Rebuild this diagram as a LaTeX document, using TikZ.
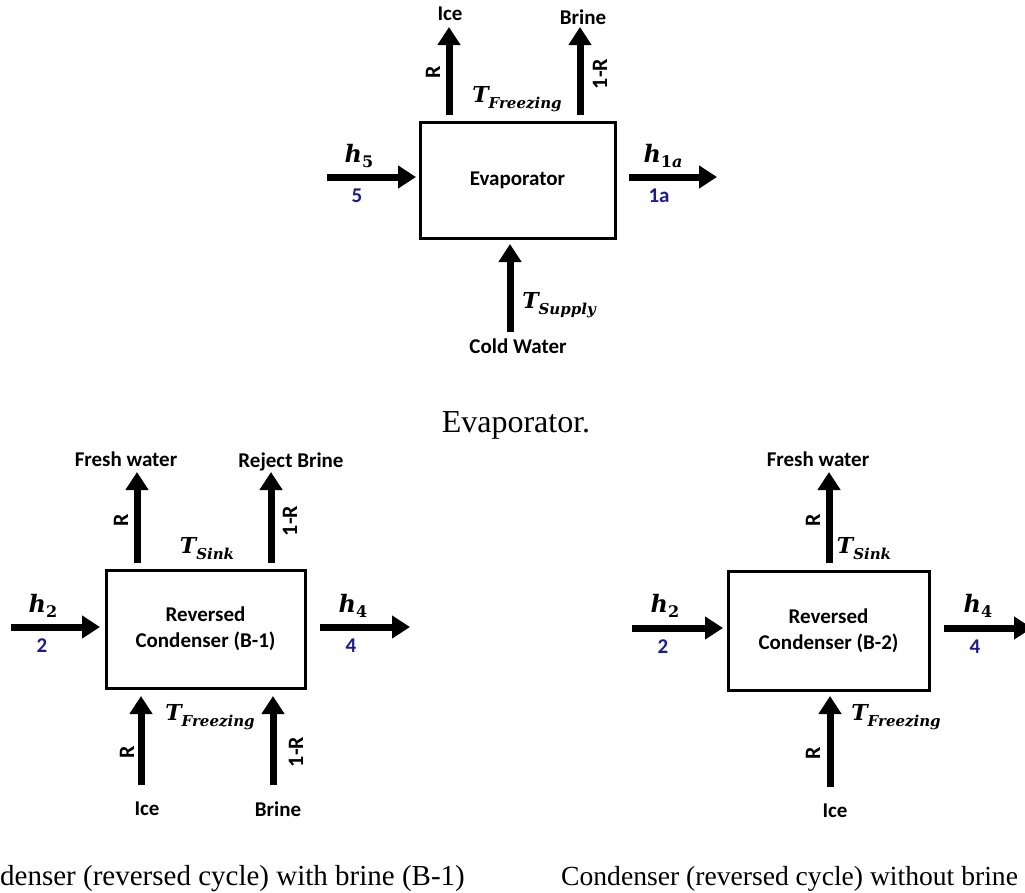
\documentclass[tikz,border=0pt]{standalone}
\usepackage{fontspec}
\setmainfont{Liberation Serif}
\newfontfamily\calib{Carlito}
\newfontfamily\cambr{DejaVu Serif}
\usetikzlibrary{arrows.meta}
\definecolor{numblue}{RGB}{28,28,140}
\newcommand\VarT[1]{{\cambr\bfseries\itshape\fontsize{22}{22}\selectfont T\raisebox{-6pt}{\fontsize{15}{15}\selectfont #1}}}
\newcommand\VarH[1]{{\cambr\bfseries\fontsize{24}{24}\selectfont\textit{h}\raisebox{-5pt}{\fontsize{16}{16}\selectfont #1}}}
\tikzset{
  flow/.style={line width=7pt, -{Triangle[width=22pt,length=18pt]}},
  unit/.style={draw, line width=3pt, inner sep=0pt, align=center,
    font=\calib\bfseries\fontsize{21}{26}\selectfont},
  lbl/.style={inner sep=0pt, font=\calib\bfseries\fontsize{21}{21}\selectfont},
  rlbl/.style={inner sep=0pt, rotate=90, font=\calib\bfseries\fontsize{22}{22}\selectfont},
  num/.style={lbl, text=numblue},
  var/.style={inner sep=0pt, anchor=base},
  capt/.style={inner sep=0pt},
}
\begin{document}
\begin{tikzpicture}[x=1pt,y=-1pt]
\useasboundingbox (0,0) rectangle (1025,892);

% ---------------- Evaporator ----------------
\node[unit, minimum width=195pt, minimum height=116pt] (evap) at (517.5,180) {Evaporator};
\coordinate (e5s) at (327,177);  \coordinate (e5e) at (416,177);
\coordinate (e1s) at (629,177);  \coordinate (e1e) at (717,177);
\coordinate (eis) at (449,115);  \coordinate (eie) at (449,27);
\coordinate (ebs) at (580,115);  \coordinate (ebe) at (580,27);
\coordinate (ecs) at (510,332);  \coordinate (ece) at (510,244);
\draw[flow] (e5s) -- (e5e);
\draw[flow] (e1s) -- (e1e);
\draw[flow] (eis) -- (eie);
\draw[flow] (ebs) -- (ebe);
\draw[flow] (ecs) -- (ece);
\node[var] (eh5) at (359,162) {\VarH{5}};
\node[num] (en5) at (357,196) {5};
\node[var] (eh1) at (663,162) {\VarH{1\textit{a}}};
\node[num] (en1) at (659,196) {1a};
\node[lbl] (eice) at (450,14) {Ice};
\node[lbl] (ebrine) at (583,17) {Brine};
\node[rlbl] (er) at (433,72) {R};
\node[rlbl] (e1r) at (600,74) {1-R};
\node[var] (etf) at (517,102) {\VarT{Freezing}};
\node[var] (ets) at (559,308) {\VarT{Supply}};
\node[lbl] (ecw) at (518,346) {Cold Water};
\node[capt, anchor=base, font=\fontsize{32}{32}\selectfont] (ecap) at (516,432) {Evaporator.};

% ---------------- Reversed condenser B-1 ----------------
\node[unit, minimum width=199pt, minimum height=118pt] (bone) at (205.5,629) {Reversed\\Condenser (B-1)};
\coordinate (a2s) at (11,627);   \coordinate (a2e) at (100,627);
\coordinate (a4s) at (320,627);  \coordinate (a4e) at (410,627);
\coordinate (afs) at (137,563);  \coordinate (afe) at (137,472);
\coordinate (ars) at (271,563);  \coordinate (are) at (271,472);
\coordinate (ais) at (141,785);  \coordinate (aie) at (141,696);
\coordinate (abs) at (273,785);  \coordinate (abe) at (273,696);
\draw[flow] (a2s) -- (a2e);
\draw[flow] (a4s) -- (a4e);
\draw[flow] (afs) -- (afe);
\draw[flow] (ars) -- (are);
\draw[flow] (ais) -- (aie);
\draw[flow] (abs) -- (abe);
\node[var] (ah2) at (43,612) {\VarH{2}};
\node[num] (an2) at (42,646) {2};
\node[var] (ah4) at (353,612) {\VarH{4}};
\node[num] (an4) at (351,646) {4};
\node[lbl] (afw) at (126,459) {Fresh water};
\node[lbl] (arb) at (291,462) {Reject Brine};
\node[rlbl] (ar1) at (121,520) {R};
\node[rlbl] (a1r1) at (290,521) {1-R};
\node[var] (ats) at (207,553) {\VarT{Sink}};
\node[var] (atf) at (210,720) {\VarT{Freezing}};
\node[rlbl] (ar2) at (127,752) {R};
\node[rlbl] (a1r2) at (296,752) {1-R};
\node[lbl] (aice) at (147,809) {Ice};
\node[lbl] (abrine) at (278,809) {Brine};
\node[capt, anchor=base west, font=\fontsize{29}{29}\selectfont] (acap) at (0,885) {denser (reversed cycle) with brine (B-1)};

% ---------------- Reversed condenser B-2 ----------------
\node[unit, minimum width=201pt, minimum height=119pt] (btwo) at (828.5,630.5) {Reversed\\Condenser (B-2)};
\coordinate (c2s) at (632,628);  \coordinate (c2e) at (723,628);
\coordinate (c4s) at (944,628);  \coordinate (c4e) at (1032,628);
\coordinate (cfs) at (829,563);  \coordinate (cfe) at (829,472);
\coordinate (cis) at (830,787);  \coordinate (cie) at (830,696);
\draw[flow] (c2s) -- (c2e);
\draw[flow] (c4s) -- (c4e);
\draw[flow] (cfs) -- (cfe);
\draw[flow] (cis) -- (cie);
\node[var] (ch2) at (665,612) {\VarH{2}};
\node[num] (cn2) at (663,647) {2};
\node[var] (ch4) at (978,612) {\VarH{4}};
\node[num] (cn4) at (975,647) {4};
\node[lbl] (cfw) at (818,459) {Fresh water};
\node[rlbl] (cr1) at (813,520) {R};
\node[var] (cts) at (864,553) {\VarT{Sink}};
\node[var] (ctf) at (896,720) {\VarT{Freezing}};
\node[rlbl] (cr2) at (813,753) {R};
\node[lbl] (cice) at (835,811) {Ice};
\node[capt, anchor=base west, font=\fontsize{27.6}{27.6}\selectfont] (ccap) at (561,885) {Condenser (reversed cycle) without brine};
\end{tikzpicture}
\end{document}
